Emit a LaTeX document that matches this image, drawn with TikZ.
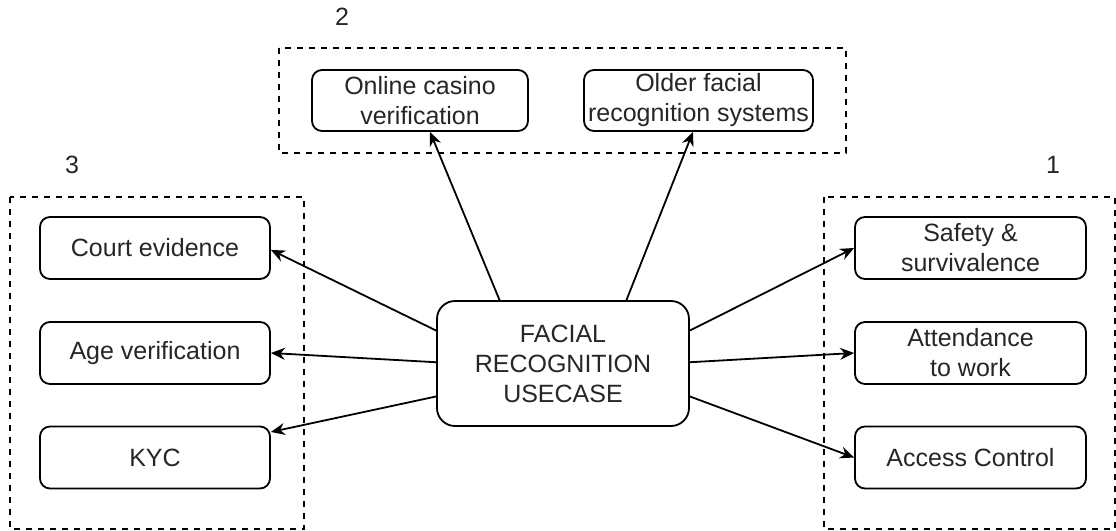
\documentclass[tikz,border=0pt]{standalone}
\usepackage{fontspec}
\setmainfont{Liberation Sans}
\usetikzlibrary{arrows.meta,calc}
\newcommand{\fsz}{\fontsize{12.5}{15}\selectfont}
\begin{document}
\begin{tikzpicture}[x=0.5pt,y=-0.5pt,
  box/.style={draw, rounded corners=5pt, line width=0.9pt, minimum width=115pt, minimum height=31pt, align=center, inner sep=1pt, font=\fsz, text=black!85},
  cbox/.style={box, rounded corners=9pt, minimum width=126pt, minimum height=62.5pt},
  grp/.style={draw, dash pattern=on 3pt off 3pt, line width=0.7pt},
  lbl/.style={font=\fsz, text=black!85, inner sep=0pt},
  arr/.style={-{Stealth[length=7pt,width=6pt]}, line width=0.9pt}]
\useasboundingbox (0,0) rectangle (1116,531);
% groups
\draw[grp] (10,197) rectangle (304,529);
\draw[grp] (824,197) rectangle (1115,529);
\draw[grp] (279,48) rectangle (846,153);
\node[lbl] (l1) at (1053,165) {1};
\node[lbl] (l2) at (342,17) {2};
\node[lbl] (l3) at (72,165) {3};
% center
\node[cbox] (c) at (563,363.5) {FACIAL\\RECOGNITION\\USECASE};
% left
\node[box] (court) at (155,248) {Court evidence};
\node[box] (age) at (155,353) {Age verification};
\node[box] (kyc) at (155,457.5) {KYC};
% right
\node[box, minimum width=115.5pt] (safety) at (970.5,248) {Safety \&\\survivalence};
\node[box, minimum width=115.5pt] (attend) at (970.5,353) {Attendance\\to work};
\node[box, minimum width=115.5pt] (access) at (970.5,457.5) {Access Control};
% top
\node[box, minimum width=108pt, minimum height=30.5pt] (casino) at (420,100.5) {Online casino\\verification};
\node[box, minimum width=114.5pt, minimum height=30.5pt] (older) at (698.5,100.5) {Older facial\\recognition systems};
% arrows
\draw[arr] ($(c.north west)!0.25!(c.north east)$) -- ($(casino.south west)!0.546!(casino.south east)$);
\draw[arr] ($(c.north west)!0.75!(c.north east)$) -- ($(older.south west)!0.476!(older.south east)$);
\draw[arr] ($(c.north west)!0.24!(c.south west)$) -- ($(court.north east)!0.53!(court.south east)$);
\draw[arr] ($(c.north west)!0.49!(c.south west)$) -- (age.east);
\draw[arr] ($(c.north west)!0.76!(c.south west)$) -- ($(kyc.north east)!0.1!(kyc.south east)$);
\draw[arr] ($(c.north east)!0.24!(c.south east)$) -- (safety.west);
\draw[arr] ($(c.north east)!0.49!(c.south east)$) -- (attend.west);
\draw[arr] ($(c.north east)!0.76!(c.south east)$) -- (access.west);
\end{tikzpicture}
\end{document}
